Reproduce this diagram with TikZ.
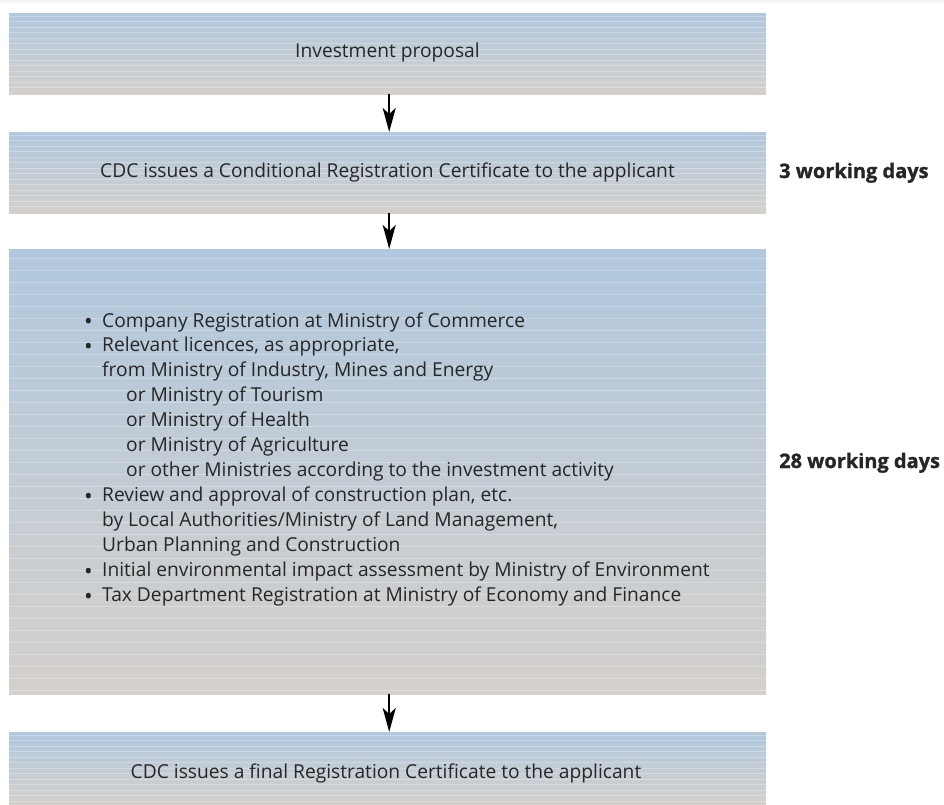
\documentclass[tikz,border=0pt]{standalone}
\usepackage{fontspec}
\setmainfont{Open Sans}
\newfontfamily\heavyfont{Open Sans}[BoldFeatures={FakeBold=1.2}]
\usetikzlibrary{arrows.meta}
\definecolor{boxtop}{RGB}{177,200,222}
\definecolor{boxbot}{RGB}{212,208,204}
\definecolor{txt}{RGB}{38,38,38}
\definecolor{topstrip}{RGB}{244,245,245}
\tikzset{
  flowbox/.style={rectangle, inner sep=0pt, minimum width=757pt, top color=boxtop, bottom color=boxbot, draw=none},
  boxtext/.style={text=txt, font=\fontsize{19.2}{23}\selectfont},
  daytext/.style={text=txt, font=\fontsize{20}{24}\selectfont\heavyfont\bfseries, anchor=base west, inner sep=0pt},
  linetext/.style={text=txt, font=\fontsize{19.2}{23}\selectfont, anchor=base west, inner sep=0pt},
  flowarrow/.style={line width=1.8pt, draw=black, -{Stealth[length=24pt,width=13pt,inset=6pt]}}
}
\newcommand{\stripes}[3]{%
  \foreach \yy in {#2,#3,...,#1} {\draw[white, opacity=0.28, line width=0.7pt] (9,\yy) -- (766,\yy);}}
\newcommand{\bul}{\makebox[18pt][l]{\raisebox{-2.6pt}{\fontsize{23}{23}\selectfont •}}}
\begin{document}
\begin{tikzpicture}[x=1pt,y=-1pt]
\useasboundingbox (0,0) rectangle (944,804);
\fill[topstrip] (0,0) rectangle (944,3);
\node[flowbox, minimum height=81pt, anchor=north west] (b1) at (9,13) {};
\node[flowbox, minimum height=81pt, anchor=north west] (b2) at (9,132) {};
\node[flowbox, minimum height=445pt, anchor=north west] (b3) at (9,249) {};
\node[flowbox, minimum height=72pt, anchor=north west] (b4) at (9,732) {};
\stripes{92}{16}{21.5}
\stripes{211}{135}{140.5}
\stripes{692}{258}{270}
\stripes{802}{735}{740.5}
\node[boxtext] (t1) at (387.5,53) {Investment proposal};
\node[boxtext] (t2) at (387.5,172) {CDC issues a Conditional Registration Certificate to the applicant};
\node[boxtext] (t4) at (386,773) {CDC issues a final Registration Certificate to the applicant};
\node[daytext] (d1) at (779,178) {3 working days};
\node[daytext] (d2) at (779,468) {28 working days};
\foreach \i/\xx/\tt in {
  0/84/{\bul Company Registration at Ministry of Commerce},
  1/84/{\bul Relevant licences, as appropriate,},
  2/102/{from Ministry of Industry, Mines and Energy},
  3/126/{or Ministry of Tourism},
  4/126/{or Ministry of Health},
  5/126/{or Ministry of Agriculture},
  6/126/{or other Ministries according to the investment activity},
  7/84/{\bul Review and approval of construction plan, etc.},
  8/102/{by Local Authorities/Ministry of Land Management,},
  9/102/{Urban Planning and Construction},
  10/84/{\bul Initial environmental impact assessment by Ministry of Environment},
  11/84/{\bul Tax Department Registration at Ministry of Economy and Finance}}
  {\node[linetext] (l\i) at (\xx,327+24.95*\i) {\tt};}
\draw[flowarrow] ([xshift=1.5pt]b1.south) -- ([xshift=1.5pt]b2.north);
\draw[flowarrow] ([xshift=1.5pt]b2.south) -- ([xshift=1.5pt]b3.north);
\draw[flowarrow] ([xshift=1.5pt]b3.south) -- ([xshift=1.5pt]b4.north);
\end{tikzpicture}
\end{document}
